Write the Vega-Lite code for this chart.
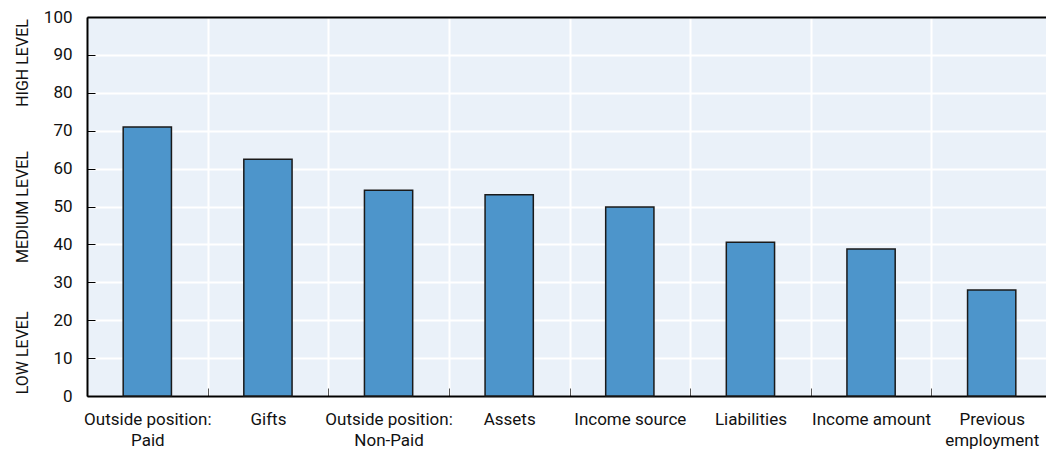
{
  "$schema": "https://vega.github.io/schema/vega-lite/v6.json",
  "width": 959,
  "height": 379,
  "autosize": {"type": "none"},
  "padding": {"left": 87, "top": 17, "right": 0, "bottom": 59},
  "config": {"view": {"fill": "#eaf1f9", "stroke": null}, "font": "Roboto"},
  "data": {
    "values": [
      {"category": "Outside position:\nPaid", "value": 71.0},
      {"category": "Gifts", "value": 62.5},
      {"category": "Outside position:\nNon-Paid", "value": 54.3},
      {"category": "Assets", "value": 53.1},
      {"category": "Income source", "value": 49.9},
      {"category": "Liabilities", "value": 40.6},
      {"category": "Income amount", "value": 38.8},
      {"category": "Previous\nemployment", "value": 28.0}
    ]
  },
  "layer": [
    {
      "mark": {"type": "bar", "fill": "#4d95cb", "stroke": "#1a1a1a", "strokeWidth": 1.5, "width": {"band": 0.4}},
      "encoding": {
        "x": {
          "field": "category", "type": "nominal", "sort": null,
          "scale": {"range": [0, 965], "paddingInner": 0, "paddingOuter": 0},
          "axis": {
            "title": null, "labelExpr": "split(datum.label, '\\n')", "labelAngle": 0,
            "labelFont": "Roboto", "labelFontSize": 17, "labelColor": "#111", "labelLineHeight": 21,
            "labelPadding": 23, "labelBaseline": "top", "tickBand": "extent", "grid": true,
            "gridColor": "#ffffff", "gridWidth": 2, "ticks": true, "tickSize": -8, "tickColor": "#555555",
            "domainColor": "#000000", "domainWidth": 2
          }
        },
        "y": {
          "field": "value", "type": "quantitative",
          "scale": {"domain": [0, 100], "nice": false},
          "axis": {
            "title": null, "values": [0, 10, 20, 30, 40, 50, 60, 70, 80, 90, 100],
            "grid": true, "gridColor": "#ffffff", "gridWidth": 2, "tickSize": -8, "tickColor": "#000000",
            "domainColor": "#000000", "domainWidth": 2, "labelPadding": 23,
            "labelFont": "Roboto", "labelFontSize": 17, "labelColor": "#111"
          }
        }
      }
    },
    {
      "mark": {"type": "bar", "opacity": 0, "width": {"band": 0.4}},
      "encoding": {
        "x": {
          "field": "category", "type": "nominal", "sort": null,
          "axis": {"orient": "top", "labels": false, "ticks": false, "grid": false, "title": null, "domainColor": "#000000", "domainWidth": 2}
        },
        "y": {
          "field": "value", "type": "quantitative",
          "axis": {
            "orient": "left", "title": null, "values": [11.5, 50, 88], "offset": 55, "labelPadding": 2,
            "labelExpr": "datum.value < 30 ? 'LOW LEVEL' : datum.value < 70 ? 'MEDIUM LEVEL' : 'HIGH LEVEL'",
            "labelAngle": -90, "labelAlign": "center", "labelBaseline": "bottom",
            "ticks": false, "domain": false, "grid": false, "labelOverlap": false, "labelFlush": false,
            "labelFont": "Roboto", "labelFontSize": 16, "labelColor": "#111"
          }
        }
      }
    }
  ],
  "resolve": {"axis": {"x": "independent", "y": "independent"}}
}
